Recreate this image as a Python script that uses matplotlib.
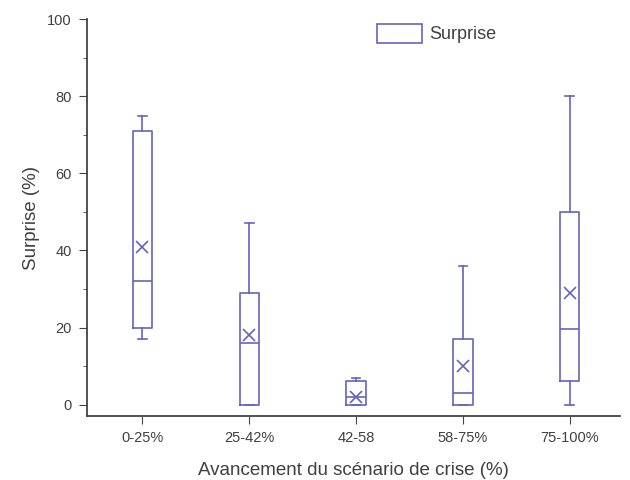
import matplotlib
matplotlib.use('Agg')
import matplotlib.pyplot as plt
from matplotlib.patches import Patch

plt.rcParams['font.family'] = ['Liberation Sans', 'DejaVu Sans']

# box stats
categories = ['0-25%', '25-42%', '42-58', '58-75%', '75-100%']
whislo = [17, 0, 0, 0, 0]
q1 = [20, 0, 0, 0, 6]
med = [32, 16, 2, 3, 19.5]
mean = [41, 18, 2, 10, 29]
q3 = [71, 29, 6, 17, 50]
whishi = [75, 47, 7, 36, 80]

col = '#6464c0'
txt = '#404040'

fig = plt.figure(figsize=(6.3, 4.8), dpi=100)
ax = fig.add_axes([0.138, 0.133, 0.846, 0.827])

stats = []
for i in range(len(categories)):
    stats.append(dict(label=categories[i], whislo=whislo[i], q1=q1[i], med=med[i],
                      q3=q3[i], whishi=whishi[i], mean=mean[i], fliers=[]))

ax.bxp(stats, positions=range(1, 6), widths=0.18, showmeans=True,
       boxprops=dict(color=col, linewidth=1.2),
       medianprops=dict(color=col, linewidth=1.2),
       whiskerprops=dict(color=col, linewidth=1.2),
       capprops=dict(color=col, linewidth=1.2),
       meanprops=dict(marker='x', markeredgecolor=col, markersize=8, markeredgewidth=1.2),
       capwidths=0.08)

ax.set_xlim(0.48, 5.47)
ax.set_ylim(-3, 100)
ax.set_yticks([0, 20, 40, 60, 80, 100])
ax.set_yticks([10, 30, 50, 70, 90], minor=True)
ax.set_xticks(range(1, 6))
ax.set_xticklabels(categories)
ax.spines['top'].set_visible(False)
ax.spines['right'].set_visible(False)
for s in ['left', 'bottom']:
    ax.spines[s].set_color('#444444')
    ax.spines[s].set_linewidth(1.3)
ax.tick_params(axis='both', which='major', direction='out', length=6, colors='#444444',
               labelcolor=txt, labelsize=10.5, pad=5)
ax.tick_params(axis='y', which='minor', length=3, colors='#444444')

ax.set_xlabel('Avancement du scénario de crise (%)', fontsize=13.5, color=txt, labelpad=12)
ax.set_ylabel('Surprise (%)', fontsize=13.5, color=txt, labelpad=5)

h = Patch(facecolor='white', edgecolor=col, linewidth=1.2)
ax.legend([h], ['Surprise'], loc='upper left', bbox_to_anchor=(0.513, 1.03), frameon=False,
          fontsize=13, handlelength=2.5, handleheight=1.3, handletextpad=0.4, labelcolor=txt)

fig.savefig('out.png', dpi=100)
